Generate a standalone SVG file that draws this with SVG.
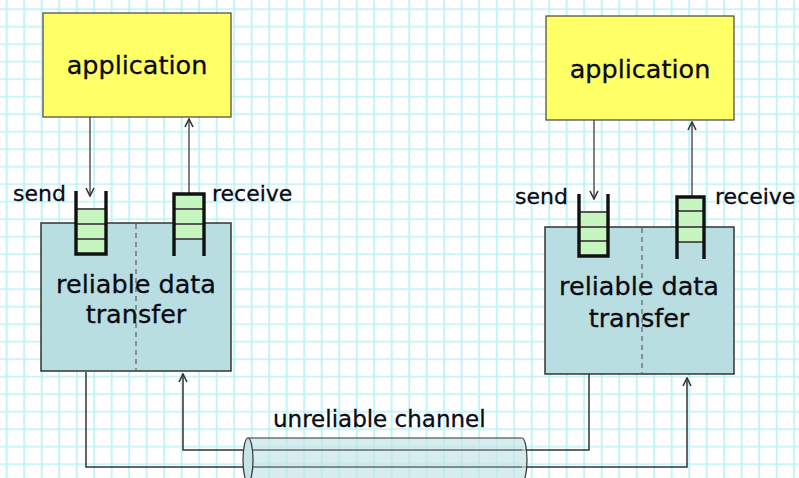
<svg xmlns="http://www.w3.org/2000/svg" width="799" height="478" viewBox="0 0 799 478">
  <style>
    .label { font-family: "DejaVu Sans", Verdana, sans-serif; fill: #0a0a14; stroke: #0a0a14; stroke-width: 0.3; }
    .big { font-size: 25.5px; text-anchor: middle; }
    .small { font-size: 22px; }
    .app { fill: #ffff66; stroke: #444; stroke-width: 1.2; }
    .rdt { fill: #b9dee1; stroke: #333; stroke-width: 1.5; }
    .divider { stroke: #777; stroke-width: 1.5; stroke-dasharray: 5 4; fill: none; }
    .cell { fill: #c6f5c0; stroke: none; }
    .sep { stroke: #555; stroke-width: 2; }
    .frame { fill: none; stroke: #111; stroke-width: 3.4; }
    .arrow { fill: none; stroke: #555; stroke-width: 1.5; marker-end: url(#head); }
    .wire { fill: none; stroke: #333; stroke-width: 1.5; }
  </style>
  <defs>
    <pattern id="grid" x="-2.05" y="0.45" width="17.5" height="17.5" patternUnits="userSpaceOnUse">
      <path d="M8.75,0 V17.5 M0,8.75 H17.5" stroke="#bcf2f6" stroke-width="1.7" fill="none"/>
    </pattern>
    <marker id="head" viewBox="0 0 10 10" refX="9" refY="5" markerWidth="10" markerHeight="10" markerUnits="userSpaceOnUse" orient="auto">
      <path d="M1,1 L9,5 L1,9" fill="none" stroke="#333" stroke-width="1.6"/>
    </marker>
  </defs>

  <!-- squared paper background -->
  <rect width="799" height="478" fill="#ffffff"/>
  <rect width="799" height="478" fill="url(#grid)"/>

  <!-- connectors -->
  <g id="connectors">
    <path class="arrow" d="M90,117 V196"/>
    <path class="arrow" d="M189,193 V119"/>
    <path class="arrow" d="M594,120 V199"/>
    <path class="arrow" d="M692,197 V122"/>
    <!-- left sender to right receiver through the channel -->
    <path class="wire" d="M86,372 V467 H687 V378" marker-end="url(#head)"/>
    <!-- right sender to left receiver through the channel -->
    <path class="wire" d="M589,374 V450 H183 V374" marker-end="url(#head)"/>
  </g>

  <!-- left host -->
  <g id="app-left">
    <rect class="app" x="43" y="13" width="188" height="104"/>
    <text class="label big" x="137" y="74">application</text>
  </g>
  <g id="rdt-left">
    <rect class="rdt" x="41" y="223" width="190" height="148"/>
    <line class="divider" x1="136" y1="224" x2="136" y2="370"/>
    <text class="label big" x="136" y="293">reliable data</text>
    <text class="label big" x="136" y="323">transfer</text>
  </g>
  <g id="send-left">
    <rect class="cell" x="76" y="209" width="30" height="45"/>
    <line class="sep" x1="76" y1="209" x2="106" y2="209"/>
    <line class="sep" x1="76" y1="224" x2="106" y2="224"/>
    <line class="sep" x1="76" y1="239" x2="106" y2="239"/>
    <path class="frame" d="M76,191 V254 H106 V191"/>
    <text class="label small" x="13" y="201">send</text>
  </g>
  <g id="receive-left">
    <rect class="cell" x="174" y="194" width="30" height="45"/>
    <line class="sep" x1="174" y1="209" x2="204" y2="209"/>
    <line class="sep" x1="174" y1="224" x2="204" y2="224"/>
    <line class="sep" x1="174" y1="239" x2="204" y2="239"/>
    <path class="frame" d="M174,256 V194 H204 V256"/>
    <text class="label small" x="212" y="201">receive</text>
  </g>

  <!-- right host -->
  <g id="app-right">
    <rect class="app" x="546" y="16" width="188" height="104"/>
    <text class="label big" x="640" y="78">application</text>
  </g>
  <g id="rdt-right">
    <rect class="rdt" x="545" y="227" width="189" height="147"/>
    <line class="divider" x1="642" y1="228" x2="642" y2="373"/>
    <text class="label big" x="639" y="295">reliable data</text>
    <text class="label big" x="639" y="327">transfer</text>
  </g>
  <g id="send-right">
    <rect class="cell" x="579" y="212" width="29" height="44"/>
    <line class="sep" x1="579" y1="212" x2="608" y2="212"/>
    <line class="sep" x1="579" y1="227" x2="608" y2="227"/>
    <line class="sep" x1="579" y1="241" x2="608" y2="241"/>
    <path class="frame" d="M579,194 V256 H608 V194"/>
    <text class="label small" x="515" y="204">send</text>
  </g>
  <g id="receive-right">
    <rect class="cell" x="677" y="197" width="27" height="45"/>
    <line class="sep" x1="677" y1="211" x2="704" y2="211"/>
    <line class="sep" x1="677" y1="227" x2="704" y2="227"/>
    <line class="sep" x1="677" y1="242" x2="704" y2="242"/>
    <path class="frame" d="M677,259 V197 H704 V259"/>
    <text class="label small" x="715" y="204">receive</text>
  </g>

  <!-- channel pipe -->
  <g id="channel">
    <path d="M248,438 H522 A5,22 0 0 1 522,482 H248 Z" fill="#c5e4e7" fill-opacity="0.7" stroke="#333" stroke-width="1.2"/>
    <line x1="248" y1="450" x2="522" y2="450" stroke="#555" stroke-width="1.2"/>
    <line x1="248" y1="467" x2="522" y2="467" stroke="#555" stroke-width="1.2"/>
    <ellipse cx="248" cy="460" rx="5" ry="22" fill="#c5e4e7" stroke="#333" stroke-width="1.2"/>
    <text class="label" x="273" y="427" font-size="23">unreliable channel</text>
  </g>
</svg>
